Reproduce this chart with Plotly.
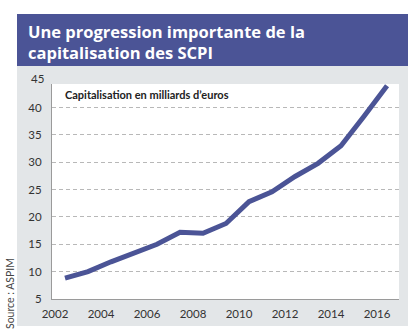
import plotly.graph_objects as go

# ---- data ----
years = [2002, 2003, 2004, 2005, 2006, 2007, 2008, 2009, 2010, 2011, 2012, 2013, 2014, 2015, 2016]
capitalisation = [8.8, 10.0, 11.8, 13.3, 15.0, 17.2, 17.0, 18.8, 22.8, 24.6, 27.4, 29.8, 33.0, 38.4, 44.0]
x_tick_labels = [2002, 2004, 2006, 2008, 2010, 2012, 2014, 2016]
y_tick_values = [5, 10, 15, 20, 25, 30, 35, 40]
top_tick_label = "45"
title_lines = ["Une progression importante de la", "capitalisation des SCPI"]
subtitle = "Capitalisation en milliards d\u2019euros"
source = "Source : ASPIM"

W, H = 413, 334
ML, MR, MT, MB = 52, 14, 84, 35
PW, PH = W - ML - MR, H - MT - MB

def px(xp):
    return (xp - ML) / PW

def py(yp):
    return (H - MB - yp) / PH

BLUE = "#4b5496"
GREY = "#e3e6e8"
FONT = "Lato"

fig = go.Figure()
fig.add_trace(go.Scatter(
    x=years, y=capitalisation, mode="lines",
    line=dict(color=BLUE, width=5),
    hoverinfo="skip", cliponaxis=False,
))

shapes = [
    dict(type="rect", xref="paper", yref="paper", x0=px(17), x1=px(408), y0=py(326), y1=py(66),
         fillcolor=GREY, line=dict(width=0), layer="below"),
    dict(type="rect", xref="paper", yref="paper", x0=0, x1=1, y0=0, y1=1,
         fillcolor="white", line=dict(width=0), layer="below"),
    dict(type="rect", xref="paper", yref="paper", x0=px(17), x1=px(408), y0=py(66), y1=py(14),
         fillcolor=BLUE, line=dict(width=0), layer="below"),
]

annotations = [
    dict(text="<br>".join(title_lines), xref="paper", yref="paper", x=px(27), y=py(42),
         xanchor="left", yanchor="middle", align="left", borderpad=0,
         showarrow=False, font=dict(family="Open Sans", size=16.5, color="white", weight="bold")),
    dict(text=subtitle, xref="paper", yref="paper", x=px(63), y=py(95), xanchor="left", yanchor="middle",
         showarrow=False, font=dict(family=FONT, size=11, color="#222222", weight="bold")),
    dict(text=top_tick_label, xref="paper", yref="paper", x=px(45), y=py(79), xanchor="right", yanchor="middle",
         showarrow=False, borderpad=0, font=dict(family=FONT, size=11.5, color="#333333")),
    dict(text=source, xref="paper", yref="paper", x=px(10), y=py(294), xanchor="center", yanchor="middle",
         textangle=-90, showarrow=False, font=dict(family=FONT, size=10.5, color="#444444")),
]

fig.update_layout(
    width=W, height=H,
    margin=dict(l=ML, r=MR, t=MT, b=MB, pad=0),
    paper_bgcolor="white",
    plot_bgcolor="rgba(0,0,0,0)",
    showlegend=False,
    shapes=shapes,
    annotations=annotations,
    xaxis=dict(
        range=[2001.435, 2016.52],
        tickmode="array",
        tickvals=[y - 0.435 for y in x_tick_labels],
        ticktext=[str(y) for y in x_tick_labels],
        showgrid=False, zeroline=False,
        showline=True, linecolor="#9a9a9a", linewidth=1,
        ticks="", ticklabelstandoff=4,
        tickfont=dict(family=FONT, size=11.5, color="#333333"),
        fixedrange=True,
    ),
    yaxis=dict(
        range=[5, 44.3],
        tickmode="array",
        tickvals=y_tick_values,
        ticktext=[str(v) for v in y_tick_values],
        showgrid=True, gridcolor="#b8b8b8", gridwidth=1, griddash="4px,3px",
        zeroline=False,
        showline=True, linecolor="#9a9a9a", linewidth=1,
        ticks="", ticklabelstandoff=7,
        tickfont=dict(family=FONT, size=11.5, color="#333333"),
        fixedrange=True,
    ),
)

fig.write_html("out.html", config={"displayModeBar": False})
